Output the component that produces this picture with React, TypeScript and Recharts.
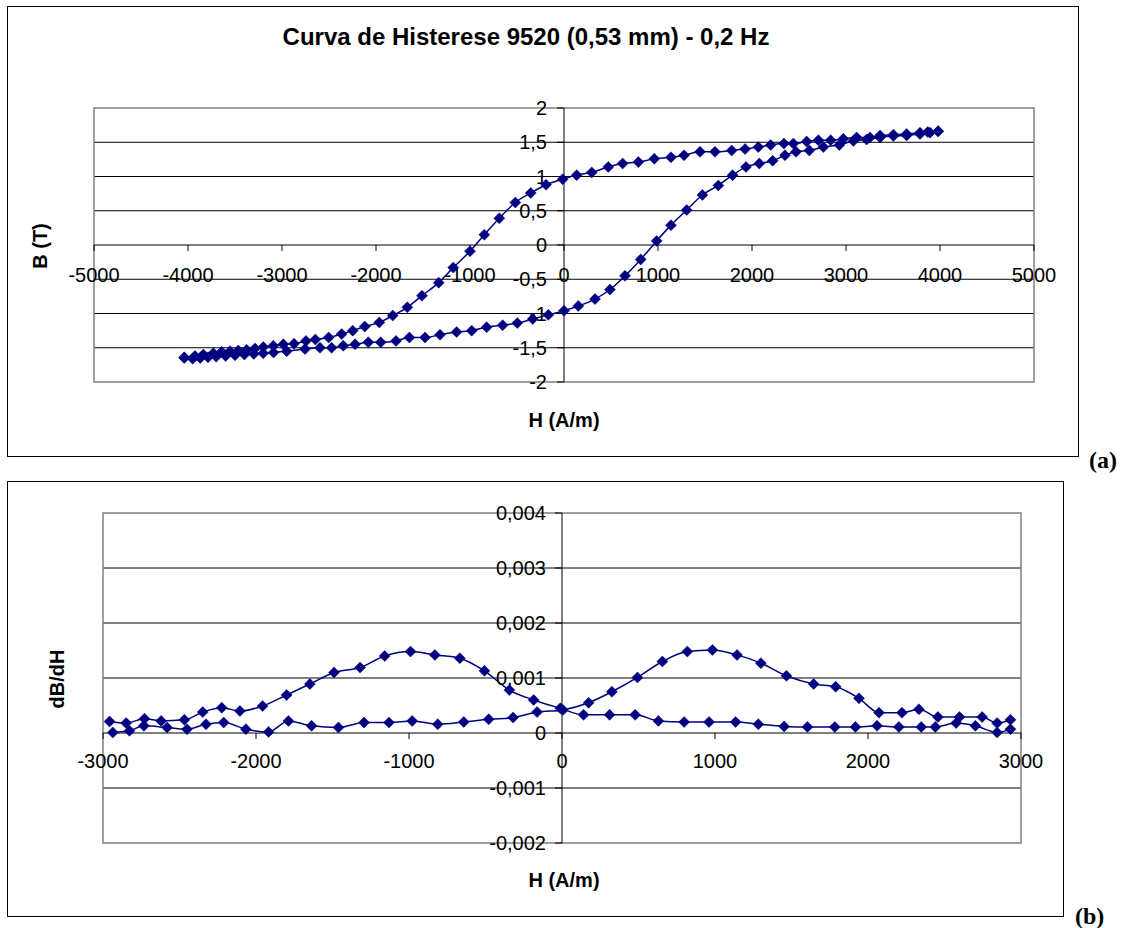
import { LineChart, Line, XAxis, YAxis, CartesianGrid, ReferenceLine, ReferenceDot, ReferenceArea } from "recharts"

const navy = "#000080"

// (a) hysteresis loop: H (A/m) and B (T), each branch in increasing H
const upperH = [-4040, -3926, -3837, -3731, -3642, -3553, -3465, -3376, -3287, -3199, -3092, -2986, -2872, -2745, -2645, -2503, -2365, -2248, -2120, -1965, -1822, -1667, -1511, -1333, -1178, -1000, -848, -688, -518, -354, -191, -14, 135, 295, 471, 624, 791, 961, 1138, 1277, 1447, 1606, 1784, 1926, 2067, 2199, 2340, 2440, 2582, 2706, 2837, 2972, 3113, 3255, 3362, 3504, 3645, 3787, 3870, 3980]
const upperB = [-1.64, -1.62, -1.6, -1.58, -1.56, -1.55, -1.54, -1.53, -1.51, -1.49, -1.47, -1.45, -1.44, -1.4, -1.38, -1.35, -1.3, -1.25, -1.19, -1.13, -1.03, -0.91, -0.74, -0.55, -0.33, -0.09, 0.15, 0.39, 0.62, 0.76, 0.88, 0.96, 1.02, 1.06, 1.14, 1.19, 1.21, 1.26, 1.28, 1.31, 1.36, 1.36, 1.38, 1.4, 1.43, 1.46, 1.48, 1.48, 1.51, 1.53, 1.53, 1.55, 1.57, 1.57, 1.6, 1.61, 1.62, 1.64, 1.65, 1.66]
const lowerH = [-4040, -3950, -3870, -3787, -3700, -3600, -3500, -3400, -3300, -3200, -3090, -2950, -2755, -2596, -2472, -2348, -2223, -2082, -1950, -1787, -1645, -1479, -1319, -1142, -982, -823, -652, -497, -333, -167, 0, 152, 330, 489, 649, 816, 986, 1138, 1305, 1472, 1642, 1794, 1936, 2078, 2220, 2351, 2468, 2610, 2759, 2929, 3078, 3220, 3362, 3504, 3645, 3787, 3894, 3980]
const lowerB = [-1.65, -1.66, -1.65, -1.64, -1.63, -1.62, -1.61, -1.6, -1.59, -1.58, -1.57, -1.55, -1.52, -1.5, -1.5, -1.47, -1.45, -1.42, -1.42, -1.4, -1.35, -1.35, -1.31, -1.27, -1.25, -1.2, -1.17, -1.14, -1.08, -1.02, -0.96, -0.89, -0.79, -0.65, -0.45, -0.21, 0.06, 0.29, 0.51, 0.73, 0.87, 1.02, 1.14, 1.19, 1.23, 1.31, 1.36, 1.38, 1.43, 1.46, 1.52, 1.54, 1.57, 1.59, 1.6, 1.62, 1.64, 1.66]

// (b) dB/dH for both branches
const derivAH = [-2957, -2849, -2729, -2620, -2468, -2348, -2224, -2105, -1957, -1800, -1648, -1490, -1320, -1159, -990, -831, -668, -507, -344, -185, -11, 141, 311, 478, 630, 798, 961, 1135, 1283, 1452, 1604, 1783, 1918, 2059, 2202, 2348, 2440, 2576, 2702, 2844, 2931]
const derivAV = [0.00021, 0.00018, 0.00026, 0.00022, 0.00024, 0.00038, 0.00046, 0.0004, 0.00049, 0.00069, 0.00089, 0.0011, 0.00119, 0.0014, 0.00148, 0.00142, 0.00136, 0.00113, 0.00078, 0.0006, 0.00045, 0.00033, 0.00033, 0.00033, 0.00022, 0.0002, 0.0002, 0.0002, 0.00016, 0.00012, 0.00011, 0.00011, 0.00011, 0.00013, 0.00011, 0.00011, 0.00011, 0.00018, 0.00013, 0.00001, 0.00007]
const derivBH = [-2936, -2827, -2733, -2581, -2451, -2327, -2211, -2066, -1918, -1788, -1637, -1461, -1294, -1131, -979, -812, -642, -479, -320, -163, 6, 174, 326, 493, 656, 819, 983, 1144, 1300, 1467, 1645, 1789, 1941, 2072, 2222, 2333, 2457, 2598, 2746, 2844, 2931]
const derivBV = [0.00001, 0.00004, 0.00013, 0.0001, 0.00007, 0.00016, 0.00019, 0.00007, 0.00002, 0.00022, 0.00013, 0.0001, 0.00019, 0.00019, 0.00022, 0.00016, 0.0002, 0.00025, 0.00028, 0.00038, 0.00042, 0.00055, 0.00075, 0.00101, 0.0013, 0.00148, 0.00151, 0.00142, 0.00127, 0.00104, 0.00089, 0.00084, 0.00063, 0.00037, 0.00037, 0.00043, 0.00029, 0.00029, 0.00029, 0.00018, 0.00024]

const loopXTicks = [-5000, -4000, -3000, -2000, -1000, 0, 1000, 2000, 3000, 4000, 5000]
const loopYTicks = [-2, -1.5, -1, -0.5, 0, 0.5, 1, 1.5, 2]
const derivXTicks = [-3000, -2000, -1000, 0, 1000, 2000, 3000]
const derivYTicks = [-0.002, -0.001, 0, 0.001, 0.002, 0.003, 0.004]

const zip = (hs: number[], vs: number[]) => hs.map((h, i) => ({ h, v: vs[i] }))
const fmt = (v: number) => String(v).replace(".", ",")

function Diamond(props: any) {
  const { cx, cy } = props
  if (cx == null || cy == null) return null
  const s = 5.5
  return (
    <path
      key={props.key}
      d={`M${cx},${cy - s}L${cx + s},${cy}L${cx},${cy + s}L${cx - s},${cy}Z`}
      fill={navy}
      stroke={navy}
      strokeWidth={0.5}
    />
  )
}

const xTick = (value: number, dy: number) => (p: any) => (
  <g>
    <line x1={p.cx} y1={p.cy} x2={p.cx} y2={p.cy + 6} stroke="#000" />
    <text x={p.cx} y={p.cy + dy} textAnchor="middle" dominantBaseline="central" fontSize={20} fill="#000">
      {fmt(value)}
    </text>
  </g>
)

const yTick = (value: number, dx: number) => (p: any) => (
  <g>
    <line x1={p.cx - 7} y1={p.cy} x2={p.cx} y2={p.cy} stroke="#000" />
    <text x={p.cx - dx} y={p.cy} textAnchor="end" dominantBaseline="central" fontSize={20} fill="#000">
      {fmt(value)}
    </text>
  </g>
)

type PanelProps = {
  width: number
  height: number
  margin: { top: number; right: number; bottom: number; left: number }
  xTicks: number[]
  yTicks: number[]
  series: { h: number; v: number }[][]
  xLabelDy: number
  yLabelDx: number
}

function Panel({ width, height, margin, xTicks, yTicks, series, xLabelDy, yLabelDx }: PanelProps) {
  const xMin = xTicks[0]
  const xMax = xTicks[xTicks.length - 1]
  const yMin = yTicks[0]
  const yMax = yTicks[yTicks.length - 1]
  return (
    <LineChart width={width} height={height} margin={margin}>
      <XAxis type="number" dataKey="h" domain={[xMin, xMax]} ticks={xTicks} hide allowDataOverflow />
      <YAxis type="number" dataKey="v" domain={[yMin, yMax]} ticks={yTicks} hide allowDataOverflow />
      <CartesianGrid
        vertical={false}
        horizontalValues={yTicks.filter((t) => t !== yMin && t !== yMax && t !== 0)}
        stroke="#000"
        strokeWidth={1}
      />
      <ReferenceArea x1={xMin} x2={xMax} y1={yMin} y2={yMax} fill="none" stroke="#808080" strokeWidth={1.5} ifOverflow="visible" />
      <ReferenceLine y={0} stroke="#000" strokeWidth={1} />
      <ReferenceLine x={0} stroke="#000" strokeWidth={1} />
      {xTicks.map((t) => (
        <ReferenceDot key={`x${t}`} x={t} y={0} r={0} ifOverflow="visible" shape={xTick(t, xLabelDy)} />
      ))}
      {yTicks.map((t) => (
        <ReferenceDot key={`y${t}`} x={0} y={t} r={0} ifOverflow="visible" shape={yTick(t, yLabelDx)} />
      ))}
      {series.map((d, i) => (
        <Line
          key={i}
          data={d}
          dataKey="v"
          type="monotone"
          stroke={navy}
          strokeWidth={1.5}
          dot={Diamond}
          activeDot={false}
          isAnimationActive={false}
        />
      ))}
    </LineChart>
  )
}

const boldLabel = (text: string, x: number, y: number, rotate = false, size = 20) => (
  <div
    style={{
      position: "absolute",
      left: x,
      top: y,
      transform: `translate(-50%, -50%)${rotate ? " rotate(-90deg)" : ""}`,
      fontWeight: "bold",
      fontSize: size,
      whiteSpace: "nowrap",
      lineHeight: 1,
    }}
  >
    {text}
  </div>
)

const panelTag = (text: string, x: number, y: number) => (
  <div
    style={{
      position: "absolute",
      left: x,
      top: y,
      transform: "translateY(-50%)",
      fontFamily: "'Liberation Serif', serif",
      fontWeight: "bold",
      fontSize: 24,
      lineHeight: 1,
    }}
  >
    {text}
  </div>
)

export default function App() {
  return (
    <div
      style={{
        position: "absolute",
        left: 0,
        top: 0,
        width: 1122,
        height: 928,
        background: "#fff",
        fontFamily: "'Liberation Sans', Arial, sans-serif",
        overflow: "hidden",
      }}
    >
      <div style={{ position: "absolute", left: 7, top: 6, width: 1072, height: 451, boxSizing: "border-box", border: "1px solid #000" }}>
        <div style={{ position: "absolute", left: -1, top: -1 }}>
          <Panel
            width={1072}
            height={451}
            margin={{ top: 102, right: 45, bottom: 75, left: 87 }}
            xTicks={loopXTicks}
            yTicks={loopYTicks}
            series={[zip(upperH, upperB), zip(lowerH, lowerB)]}
            xLabelDy={30}
            yLabelDx={17}
          />
        </div>
      </div>
      {boldLabel("Curva de Histerese 9520 (0,53 mm) - 0,2 Hz", 526, 37, false, 24)}
      {boldLabel("B (T)", 40, 246, true)}
      {boldLabel("H (A/m)", 564, 420)}

      <div style={{ position: "absolute", left: 7, top: 481, width: 1057, height: 436, boxSizing: "border-box", border: "1px solid #000" }}>
        <div style={{ position: "absolute", left: -1, top: -1 }}>
          <Panel
            width={1057}
            height={436}
            margin={{ top: 32, right: 43, bottom: 74, left: 96 }}
            xTicks={derivXTicks}
            yTicks={derivYTicks}
            series={[zip(derivAH, derivAV), zip(derivBH, derivBV)]}
            xLabelDy={28}
            yLabelDx={16}
          />
        </div>
      </div>
      {boldLabel("dB/dH", 57, 679, true)}
      {boldLabel("H (A/m)", 564, 880)}

      {panelTag("(a)", 1089, 460)}
      {panelTag("(b)", 1075, 916)}
    </div>
  )
}
